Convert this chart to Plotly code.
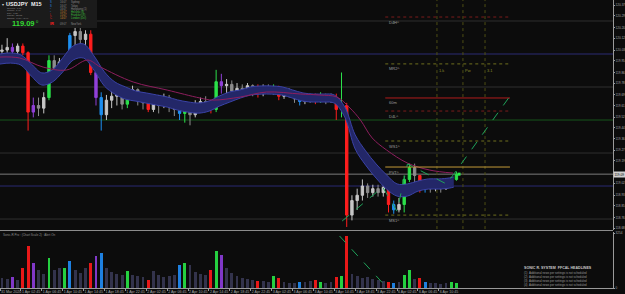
import plotly.graph_objects as go

W, H = 625, 294
X_END = 613 / W          # right edge of the price area (axis line)

# ---------------- data ----------------
time_ticks = ["31 Mar 2020", "1 Apr 02:45", "1 Apr 06:45", "1 Apr 10:45", "1 Apr 14:45",
              "1 Apr 18:45", "1 Apr 22:45", "2 Apr 02:45", "2 Apr 06:45", "2 Apr 10:45",
              "2 Apr 14:45", "2 Apr 18:45", "2 Apr 22:45", "3 Apr 02:45", "3 Apr 06:45",
              "3 Apr 10:45", "3 Apr 14:45", "3 Apr 18:45", "3 Apr 22:45", "6 Apr 02:45",
              "6 Apr 06:45", "6 Apr 10:45"]
time_tick_bars = [0, 16, 32, 48, 64, 80, 96, 112, 128, 144, 160, 176, 192, 208, 224,
                  240, 256, 272, 288, 304, 320, 336]

price_ticks = [120.37, 120.29, 120.20, 120.12, 120.03, 119.95, 119.86, 119.78, 119.69,
               119.61, 119.52, 119.44, 119.36, 119.27, 119.19, 119.02, 118.93, 118.85,
               118.76, 118.68]
current_price = 119.09
vol_ticks = [0, 3254]

opens = [120.02, 120.03, 120.05, 120.02, 120.06, 120.01, 119.56, 119.61, 119.59, 119.67,
         119.95, 119.89, 119.94, 119.95, 120.14, 120.17, 120.11, 120.15, 119.86, 119.67,
         119.54, 119.65, 119.68, 119.71, 119.62, 119.68, 119.73, 119.67, 119.63, 119.58,
         119.65, 119.61, 119.67, 119.61, 119.58, 119.55, 119.59, 119.54, 119.62, 119.64,
         119.61, 119.58, 119.79, 119.76, 119.77, 119.72, 119.74, 119.71, 119.76, 119.73,
         119.70, 119.74, 119.73, 119.75, 119.68, 119.71, 119.69, 119.66, 119.64, 119.67,
         119.65, 119.64, 119.68, 119.66, 119.67, 119.58, 119.61, 118.78, 118.89, 118.93,
         119.00, 118.95, 118.98, 118.95, 118.99, 118.86, 118.82, 118.86, 119.05, 119.14,
         119.08, 118.98, 119.02, 118.98, 119.01, 118.98, 119.02, 119.05]
closes = [120.03, 120.05, 120.02, 120.06, 120.01, 119.56, 119.61, 119.59, 119.67, 119.95,
          119.89, 119.94, 119.95, 120.14, 120.17, 120.11, 120.15, 119.86, 119.67, 119.54,
          119.65, 119.68, 119.71, 119.62, 119.68, 119.73, 119.67, 119.63, 119.58, 119.65,
          119.61, 119.67, 119.61, 119.58, 119.55, 119.59, 119.54, 119.62, 119.64, 119.61,
          119.58, 119.79, 119.76, 119.77, 119.72, 119.74, 119.71, 119.76, 119.73, 119.70,
          119.74, 119.73, 119.75, 119.68, 119.71, 119.69, 119.66, 119.64, 119.67, 119.65,
          119.64, 119.68, 119.66, 119.67, 119.58, 119.61, 118.78, 118.89, 118.93, 119.00,
          118.95, 118.98, 118.95, 118.99, 118.86, 118.82, 118.86, 119.05, 119.14, 119.08,
          118.98, 119.02, 118.98, 119.01, 118.98, 119.02, 119.05, 119.09]
highs = [120.07, 120.12, 120.08, 120.08, 120.08, 120.02, 119.67, 119.67, 119.71, 119.99,
         119.99, 119.97, 119.98, 120.16, 120.20, 120.20, 120.18, 120.18, 119.88, 119.71,
         119.69, 119.74, 119.74, 119.73, 119.69, 119.76, 119.74, 119.71, 119.67, 119.68,
         119.69, 119.70, 119.69, 119.65, 119.61, 119.61, 119.62, 119.65, 119.67, 119.68,
         119.65, 119.88, 119.85, 119.81, 119.80, 119.78, 119.77, 119.78, 119.77, 119.77,
         119.77, 119.77, 119.77, 119.76, 119.73, 119.74, 119.72, 119.69, 119.70, 119.70,
         119.70, 119.71, 119.70, 119.70, 119.70, 119.86, 119.63, 118.93, 118.98, 119.05,
         119.02, 119.01, 119.01, 119.02, 119.00, 118.89, 118.91, 119.08, 119.17, 119.17,
         119.08, 119.05, 119.03, 119.04, 119.02, 119.05, 119.07, 119.11]
lows = [119.98, 120.01, 119.99, 119.98, 119.99, 119.42, 119.52, 119.53, 119.55, 119.65,
        119.83, 119.85, 119.88, 119.93, 120.06, 120.07, 120.05, 119.84, 119.61, 119.42,
        119.50, 119.59, 119.61, 119.58, 119.59, 119.65, 119.61, 119.58, 119.56, 119.56,
        119.55, 119.59, 119.56, 119.53, 119.50, 119.48, 119.46, 119.52, 119.58, 119.57,
        119.55, 119.56, 119.70, 119.70, 119.68, 119.68, 119.69, 119.70, 119.68, 119.67,
        119.68, 119.70, 119.69, 119.65, 119.66, 119.67, 119.63, 119.61, 119.62, 119.63,
        119.62, 119.63, 119.62, 119.63, 119.50, 119.52, 118.69, 118.74, 118.82, 118.89,
        118.91, 118.92, 118.92, 118.92, 118.80, 118.79, 118.80, 118.80, 119.03, 119.00,
        118.95, 118.95, 118.95, 118.96, 118.95, 118.97, 119.00, 119.04]
# bar type (PVA colouring): n normal, r red climax, g green climax, b blue, p purple
candle_kind = list("nnpnrrpnng" "nngbnnnrpb" "nnnngnnnrn" "nnnnbgnnnn" "rgpnnnnnnr"
                   "nngrnnnbnn" "rgnnrgrnnn" "nnnnrbnggn" "rbnnnngg")
volumes = [592, 533, 651, 474, 1184, 2486, 1480, 1066, 829, 1776,
           1066, 1184, 1184, 1598, 1066, 888, 1184, 1480, 1894, 2072,
           1184, 947, 829, 770, 1006, 770, 710, 651, 474, 1006,
           770, 651, 710, 770, 1362, 1480, 1362, 947, 829, 770,
           1066, 2190, 1954, 1184, 888, 710, 592, 533, 474, 414,
           414, 355, 710, 592, 355, 296, 296, 355, 355, 414,
           474, 355, 296, 355, 651, 710, 3078, 829, 710, 592,
           651, 533, 474, 414, 355, 296, 355, 770, 1066, 533,
           592, 355, 296, 296, 237, 296, 355, 296]

band_bars = [0, 8, 16, 24, 32, 40, 48, 56, 64, 72, 80, 88, 96, 104, 112, 120, 128, 136,
             144, 152, 160, 168, 176, 184, 192, 200, 208, 216, 224, 232, 240, 248, 256,
             264, 272, 280, 288, 296, 304, 312, 320, 328, 336, 344, 347.5]
band_upper = [120.000, 120.008, 119.993, 119.925, 119.857, 119.879, 119.970, 120.061, 120.076, 119.985,
              119.864, 119.788, 119.751, 119.720, 119.705, 119.690, 119.675, 119.652, 119.637, 119.629,
              119.644, 119.682, 119.713, 119.728, 119.751, 119.758, 119.758, 119.751, 119.728, 119.705,
              119.697, 119.697, 119.690, 119.599, 119.387, 119.266, 119.167, 119.084, 119.016, 119.016,
              119.038, 119.054, 119.054, 119.061, 119.069]
band_lower = [119.924, 119.931, 119.916, 119.833, 119.765, 119.787, 119.863, 119.954, 119.969, 119.878,
              119.757, 119.696, 119.658, 119.643, 119.628, 119.613, 119.598, 119.575, 119.560, 119.552,
              119.567, 119.605, 119.636, 119.666, 119.689, 119.696, 119.696, 119.689, 119.666, 119.643,
              119.636, 119.636, 119.628, 119.522, 119.280, 119.158, 119.060, 118.977, 118.924, 118.924,
              118.961, 118.977, 118.977, 118.984, 118.992]

ma_bars = [0, 15, 33, 51, 67, 77, 102, 128, 153, 163, 184, 204, 230, 245, 258, 268, 276,
           285, 296, 312, 329, 347]
ma_vals = [119.977, 119.970, 119.901, 119.879, 119.954, 119.901, 119.788, 119.727, 119.667,
           119.651, 119.674, 119.712, 119.697, 119.689, 119.674, 119.591, 119.500, 119.364,
           119.273, 119.174, 119.121, 119.098]

round_levels = [120.25, 120.00, 119.75, 119.50, 119.25, 119.00, 118.75]
round_colors = ["#2f2f2f", "#2a2a72", "#2f2f2f", "#17561b", "#2f2f2f", "#2a2a72", "#2f2f2f"]

pivot_names = ["D4H^", "MR2^", "60m", "D4L^", "WS1^", "PVT^", "MS1^"]
pivot_vals = [120.28, 119.925, 119.667, 119.568, 119.341, 119.144, 118.780]
pivot_colors = ["#7a1c1c", "#6e6e1e", "#b01c1c", "#7a1c1c", "#6e6e1e", "#c49a38", "#6e6e1e"]
pivot_dash = ["dot", "dot", "solid", "dot", "dot", "solid", "dot"]
pivot_span = [295, 390.5]

session_bars = [334.6, 354.5, 371.4]
session_labels = ["1.k", "Pw", "3.1"]
session_label_price = 119.91

zz_bars = [262, 293, 304, 312, 342, 390]
zz_vals = [118.735, 118.992, 118.81, 119.167, 119.015, 119.674]
vz_bars = [260, 293]
vz_vals = [3076, 296]

# ---------------- figure ----------------
fig = go.Figure()
bar_pos = [4 * i + 1.5 for i in range(len(closes))]

kind_color = {"r": "#ff1e1e", "g": "#2be04a", "b": "#1e8ff0", "p": "#9040d8"}
vol_color = {"n": "#33334c", "r": "#e81818", "g": "#25d040", "b": "#1e80e0", "p": "#8038c8"}

for i, lvl in enumerate(round_levels):
    fig.add_shape(type="line", xref="paper", x0=0, x1=X_END, yref="y", y0=lvl, y1=lvl,
                  line=dict(color=round_colors[i], width=1), layer="below")
fig.add_shape(type="line", xref="paper", x0=0, x1=X_END, yref="y", y0=current_price,
              y1=current_price, line=dict(color="#7c7c7c", width=1), layer="below")

for b in session_bars:
    fig.add_shape(type="line", xref="x", x0=b, x1=b, yref="y domain", y0=0.004, y1=1,
                  line=dict(color="#4e4e14", width=1, dash="dot"), layer="below")

# dragon band
fig.add_trace(go.Scatter(x=band_bars, y=band_upper, mode="lines",
                         line=dict(color="#3a42a6", width=1, shape="spline"),
                         xaxis="x", yaxis="y", hoverinfo="skip"))
fig.add_trace(go.Scatter(x=band_bars, y=band_lower, mode="lines", fill="tonexty",
                         fillcolor="#232768", line=dict(color="#3a42a6", width=1, shape="spline"),
                         xaxis="x", yaxis="y", hoverinfo="skip"))
# slow MA
fig.add_trace(go.Scatter(x=ma_bars, y=ma_vals, mode="lines",
                         line=dict(color="#8e1e5e", width=1, shape="spline"),
                         xaxis="x", yaxis="y", hoverinfo="skip"))

for k in "nrgbp":
    idx = [i for i, c in enumerate(candle_kind) if c == k]
    if k == "n":
        inc = dict(line=dict(color="#c6c6c6", width=1), fillcolor="#c6c6c6")
        dec = dict(line=dict(color="#8c8c8c", width=1), fillcolor="#8c8c8c")
    else:
        col = kind_color[k]
        inc = dict(line=dict(color=col, width=1), fillcolor=col)
        dec = dict(line=dict(color=col, width=1), fillcolor=col)
    fig.add_trace(go.Candlestick(
        x=[bar_pos[i] for i in idx], open=[opens[i] for i in idx],
        high=[highs[i] for i in idx], low=[lows[i] for i in idx],
        close=[closes[i] for i in idx], increasing=inc, decreasing=dec,
        whiskerwidth=0, xaxis="x", yaxis="y", hoverinfo="skip"))

# pivot levels
for i, v in enumerate(pivot_vals):
    fig.add_trace(go.Scatter(x=pivot_span, y=[v, v], mode="lines",
                             line=dict(color=pivot_colors[i], width=1, dash=pivot_dash[i]),
                             xaxis="x", yaxis="y", hoverinfo="skip"))
    fig.add_annotation(x=pivot_span[0] + 1, y=v, xref="x", yref="y", text=pivot_names[i],
                       showarrow=False, xanchor="left", yanchor="top", yshift=-0.5,
                       font=dict(size=4, color="#9c9c9c", family="Liberation Sans"))
for b, t in zip(session_bars, session_labels):
    fig.add_annotation(x=b, y=session_label_price, xref="x", yref="y", text=t,
                       showarrow=False, xanchor="left", yanchor="top",
                       font=dict(size=4, color="#8a8a2a", family="Liberation Sans"))

# zigzag
fig.add_trace(go.Scatter(x=zz_bars, y=zz_vals, mode="lines",
                         line=dict(color="#1fa35a", width=1, dash="dash"),
                         xaxis="x", yaxis="y", hoverinfo="skip"))
fig.add_trace(go.Scatter(x=[bar_pos[-1] + 2], y=[current_price], mode="markers",
                         marker=dict(symbol="square", size=3, color="#2bf04a"),
                         xaxis="x", yaxis="y", hoverinfo="skip"))

# volume
fig.add_trace(go.Bar(x=bar_pos, y=volumes, width=2.2,
                     marker=dict(color=[vol_color[k] for k in candle_kind], line=dict(width=0)),
                     xaxis="x", yaxis="y2", hoverinfo="skip"))
fig.add_trace(go.Scatter(x=vz_bars, y=vz_vals, mode="lines",
                         line=dict(color="#1fa35a", width=1, dash="dash"),
                         xaxis="x", yaxis="y2", hoverinfo="skip"))

# separator between panels
fig.add_shape(type="line", xref="paper", x0=0, x1=X_END, yref="paper",
              y0=1 - 230.5 / H, y1=1 - 230.5 / H, line=dict(color="#8c8c8c", width=1))

# info box
fig.add_shape(type="rect", xref="paper", yref="paper", x0=0, x1=97 / W, y0=1 - 28 / H, y1=1,
              fillcolor="#1b1b1b", line=dict(width=0))

def note(xp, yp, text, size, color, anchor="left", bold=False):
    fig.add_annotation(x=xp / W, y=1 - yp / H, xref="paper", yref="paper",
                       text=("<b>%s</b>" % text) if bold else text, showarrow=False,
                       xanchor=anchor, yanchor="middle", borderpad=0,
                       font=dict(size=size, color=color, family="Liberation Sans"))

note(0.5, 4, "▾", 4, "#cfcfcf")
note(5, 4, "USDJPY  M15", 5.5, "#f0f0f0", bold=True)
for j, t in enumerate(["Spread:  1.80", "Comm:  1.40", "Day:  0.26", "Range:  52.33",
                       "Swaps:  1.00 / -3.96"]):
    note(6, 8.0 + 2.6 * j, t, 2.4, "#8c8c8c")
note(11, 23.5, "119.09", 7.5, "#33dd33", bold=True)
note(35, 22, "0", 4, "#33dd33")
mid = ["S", "S", "▪", "▪", "L", "C", "IR"]
mid_c = ["#2a8ff0", "#2a8ff0", "#3a6aa8", "#3a6aa8", "#e02020", "#e02020", "#ff2020"]
rows = [2.5, 5.6, 8.7, 11.8, 14.9, 18.0, 23.5]
times = ["16:07", "16:07", "16:07", "15:07", "15:07", "14:07", "09:07"]
times_c = ["#8a8a8a", "#8a8a8a", "#8a8a8a", "#d08a30", "#d08a30", "#d08a30", "#8a8a8a"]
names = ["Sydney", "Tokyo", "Hongkong (1)", "Helsinki (8)", "Frankfurt (8)", "London (Dst)", "NewYork"]
names_c = ["#8a8a8a", "#8a8a8a", "#8a8a8a", "#3cc03c", "#3cc03c", "#3cc03c", "#8a8a8a"]
for j in range(7):
    note(48.5, rows[j], mid[j], 2.6 if j < 6 else 4, mid_c[j], bold=(j == 6))
    note(59, rows[j], times[j], 2.6, times_c[j])
    note(70, rows[j], names[j], 2.6, names_c[j])

note(2, 234.5, "Sonic-R Pro : (Chart Scale 2) : Alert On", 3, "#8c8c8c")
note(523, 267.5, "SONIC R. SYSTEM  FFCAL HEADLINES", 3.6, "#c8c8c8", bold=True)
for j in range(4):
    note(523, 272.5 + 4 * j, "(%d)  Additional news per settings is not scheduled" % (j + 1),
         2.9, "#9a9a9a")

fig.add_annotation(x=X_END, y=current_price, xref="paper", yref="y", text="%.2f" % current_price,
                   showarrow=False, xanchor="left", yanchor="middle", bgcolor="#cfcfcf",
                   borderpad=0.5, font=dict(size=3.2, color="#000000", family="Liberation Sans"))

axis_font = dict(size=3.6, color="#a8a8a8", family="Liberation Sans")
yaxis_font = dict(size=3.1, color="#a8a8a8", family="Liberation Sans")
fig.update_layout(
    width=W, height=H, margin=dict(l=0, r=0, t=0, b=0, autoexpand=False),
    paper_bgcolor="#0c0c0c", plot_bgcolor="#0c0c0c",
    showlegend=False, hovermode=False, boxgap=0.35, bargap=0,
    xaxis=dict(domain=[0, X_END], range=[0, 469.4], anchor="y2", showgrid=False,
               zeroline=False, tickmode="array", tickvals=time_tick_bars, ticktext=time_ticks,
               ticks="outside", ticklen=2, tickcolor="#9a9a9a", tickfont=axis_font,
               tickangle=0, automargin=False,
               ticklabelposition="outside right", showline=True, linecolor="#9a9a9a",
               linewidth=1, rangeslider=dict(visible=False), fixedrange=True),
    yaxis=dict(domain=[64 / H, 1], range=[118.667, 120.409], side="right", anchor="x",
               showgrid=False, zeroline=False, tickmode="array", tickvals=price_ticks,
               ticktext=["%.2f" % v for v in price_ticks], ticks="outside", ticklen=1,
               tickcolor="#9a9a9a", tickfont=yaxis_font, showline=True, automargin=False,
               linecolor="#9a9a9a", linewidth=1, fixedrange=True),
    yaxis2=dict(domain=[6 / H, 62 / H], range=[0, 3313], side="right", anchor="x",
                showgrid=False, zeroline=False, tickmode="array", tickvals=vol_ticks,
                ticktext=[str(v) for v in vol_ticks], ticks="outside", ticklen=1,
                tickcolor="#9a9a9a", tickfont=yaxis_font, showline=True, automargin=False,
                linecolor="#9a9a9a", linewidth=1, fixedrange=True),
)

fig.write_html("out.html")
